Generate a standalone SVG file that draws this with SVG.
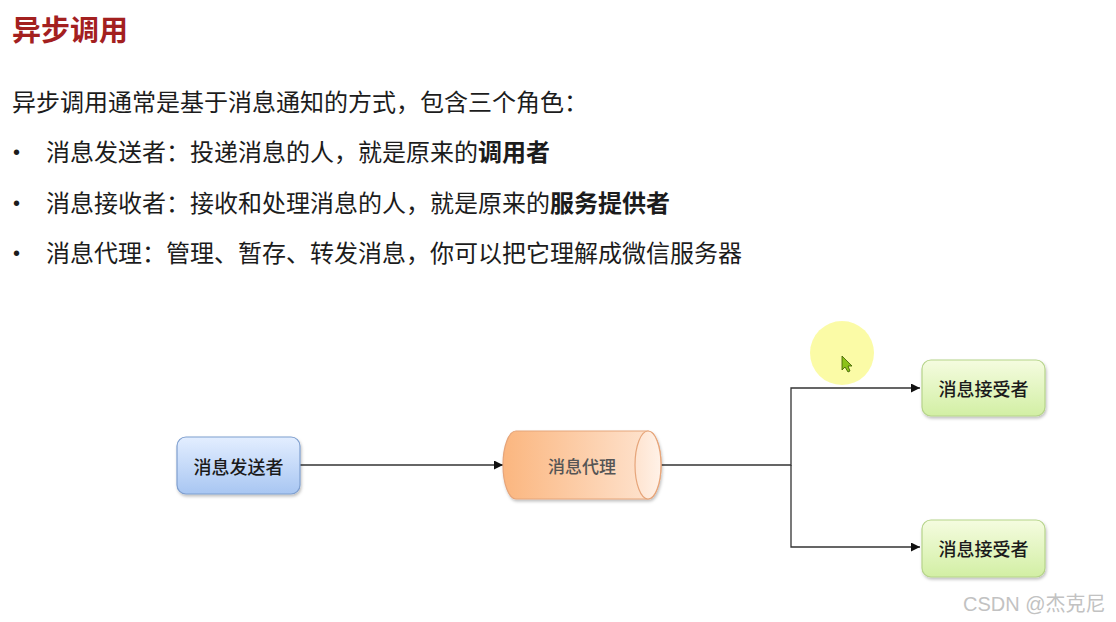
<svg xmlns="http://www.w3.org/2000/svg" width="1116" height="622" viewBox="0 0 1116 622">
  <defs>
    <linearGradient id="gBlue" x1="0" y1="0" x2="0" y2="1">
      <stop offset="0" stop-color="#e3eeff"/>
      <stop offset="1" stop-color="#a8c6f2"/>
    </linearGradient>
    <linearGradient id="gGreen" x1="0" y1="0" x2="0" y2="1">
      <stop offset="0" stop-color="#f5fce0"/>
      <stop offset="1" stop-color="#d2efa4"/>
    </linearGradient>
    <linearGradient id="gOrange" x1="0" y1="0" x2="1" y2="0">
      <stop offset="0" stop-color="#fbb67f"/>
      <stop offset="1" stop-color="#fee6d4"/>
    </linearGradient>
    <linearGradient id="gCap" x1="0" y1="0" x2="1" y2="0">
      <stop offset="0" stop-color="#fee3cf"/>
      <stop offset="1" stop-color="#fff2e8"/>
    </linearGradient>
    <filter id="shadow" x="-10%" y="-10%" width="125%" height="130%">
      <feDropShadow dx="1" dy="2" stdDeviation="1.5" flood-color="#000" flood-opacity="0.25"/>
    </filter>
    <marker id="arrow" viewBox="0 0 10 10" refX="10" refY="5" markerWidth="9" markerHeight="9" markerUnits="userSpaceOnUse" orient="auto">
      <path d="M0,0 L10,5 L0,10 Z" fill="#111"/>
    </marker>
  </defs>
  <style>
    .title { font-family: "Noto Sans CJK SC", "Liberation Sans", sans-serif; font-size: 29px; font-weight: bold; fill: #a3201f; }
    .body { font-family: "Noto Sans CJK SC", "Liberation Sans", sans-serif; font-size: 24px; fill: #1c1c1c; }
    .bold { font-weight: bold; }
    .bullet { font-family: "Liberation Sans", sans-serif; font-size: 20px; fill: #1c1c1c; }
    .node { font-family: "Noto Sans CJK SC", "Liberation Sans", sans-serif; font-size: 18px; font-weight: 500; fill: #1a1a1a; text-anchor: middle; dominant-baseline: central; }
    .nodeGray { fill: #555; font-size: 17px; }
    .conn { fill: none; stroke: #333; stroke-width: 1.3; }
    .wm { font-family: "Liberation Sans", "Noto Sans CJK SC", sans-serif; font-size: 20px; fill: #c2c2c2; }
  </style>
  <rect width="1116" height="622" fill="#ffffff"/>

  <text class="title" x="12" y="41">异步调用</text>

  <text class="body" x="12" y="111">异步调用通常是基于消息通知的方式，包含三个角色：</text>
  <text class="bullet" x="13" y="159">•</text>
  <text class="body" x="46" y="161">消息发送者：投递消息的人，就是原来的<tspan class="bold">调用者</tspan></text>
  <text class="bullet" x="13" y="210">•</text>
  <text class="body" x="46" y="212">消息接收者：接收和处理消息的人，就是原来的<tspan class="bold">服务提供者</tspan></text>
  <text class="bullet" x="13" y="260">•</text>
  <text class="body" x="46" y="262">消息代理：管理、暂存、转发消息，你可以把它理解成微信服务器</text>

  <!-- cursor highlight -->
  <circle cx="842" cy="353" r="32" fill="#fbfb9c" opacity="0.9"/>
  <path d="M842,356 L842,370 L845,367 L848,372 L850,371 L848,366 L852,366 Z" fill="#8cc21a" stroke="#3a5a00" stroke-width="0.8"/>

  <g id="connectors">
    <line class="conn" x1="300" y1="465" x2="503" y2="465" marker-end="url(#arrow)"/>
    <path class="conn" d="M661,465 H791 V388 H920" marker-end="url(#arrow)"/>
    <path class="conn" d="M791,465 V547 H920" marker-end="url(#arrow)"/>
  </g>

  <g id="sender">
    <rect x="177" y="437" width="123" height="57" rx="9" fill="url(#gBlue)" stroke="#7f9fcf" stroke-width="1.2" filter="url(#shadow)"/>
    <text class="node" x="238.5" y="465.5">消息发送者</text>
  </g>

  <g id="broker">
    <path d="M516,431 H648 A13,34 0 0 1 648,499 H516 A13,34 0 0 1 516,431 Z" fill="url(#gOrange)" stroke="#e6a57a" stroke-width="1.2" filter="url(#shadow)"/>
    <ellipse cx="648" cy="465" rx="13" ry="34" fill="url(#gCap)" stroke="#e6a57a" stroke-width="1.2"/>
    <text class="node nodeGray" x="582" y="465">消息代理</text>
  </g>

  <g id="receiver1">
    <rect x="922" y="360" width="123" height="56" rx="9" fill="url(#gGreen)" stroke="#b6d48a" stroke-width="1.2" filter="url(#shadow)"/>
    <text class="node" x="983.5" y="388">消息接受者</text>
  </g>

  <g id="receiver2">
    <rect x="922" y="520" width="123" height="57" rx="9" fill="url(#gGreen)" stroke="#b6d48a" stroke-width="1.2" filter="url(#shadow)"/>
    <text class="node" x="983.5" y="548">消息接受者</text>
  </g>

  <text class="wm" x="963" y="611">CSDN @杰克尼</text>
</svg>
